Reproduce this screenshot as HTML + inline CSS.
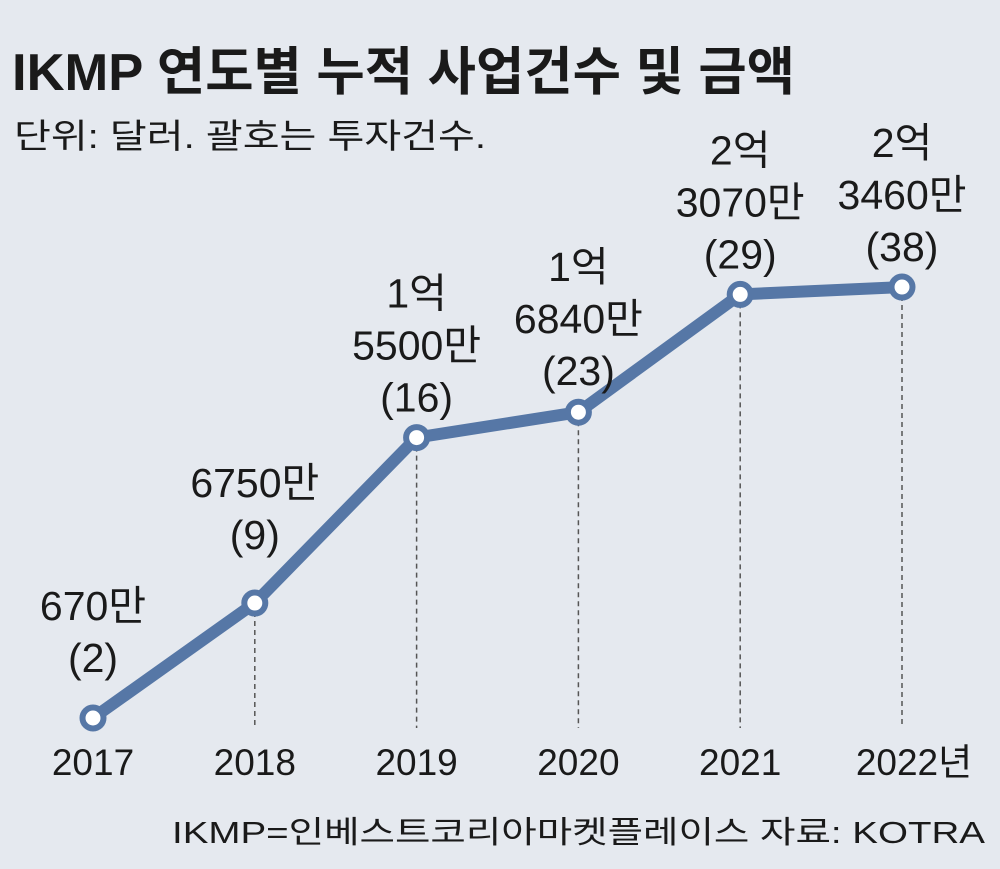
<!DOCTYPE html>
<html><head><meta charset="utf-8"><style>
body{margin:0;background:#e5e9ef;}
svg{display:block;font-family:"Liberation Sans","Noto Sans CJK KR",sans-serif;}
</style></head><body>
<svg width="1000" height="869" viewBox="0 0 1000 869">
<rect width="1000" height="869" fill="#e5e9ef"/>
<text x="12" y="90" font-size="52" font-weight="bold" fill="#1a1a1a" textLength="783" lengthAdjust="spacingAndGlyphs">IKMP 연도별 누적 사업건수 및 금액</text>
<text x="14" y="148" font-size="34" fill="#1a1a1a" textLength="472" lengthAdjust="spacingAndGlyphs">단위: 달러. 괄호는 투자건수.</text>
<g id="plot"></g>
<text x="172" y="843" font-size="31" fill="#1a1a1a" textLength="813" lengthAdjust="spacingAndGlyphs">IKMP=인베스트코리아마켓플레이스  자료: KOTRA</text>
</svg>
<script>
const years=["2017","2018","2019","2020","2021","2022년"];
const amounts=[670,6750,15500,16840,23070,23460];
const counts=[2,9,16,23,29,38];
const amountLabels=[["670만"],["6750만"],["1억","5500만"],["1억","6840만"],["2억","3070만"],["2억","3460만"]];
const gaps=[46,54,26,27,26,26];
const xPos=i=>93+i*161.8;
const yPos=v=>718-(v-670)*0.01891;
const ns="http://www.w3.org/2000/svg";
const g=document.getElementById('plot');
function mk(t,a){const e=document.createElementNS(ns,t);for(const k in a)e.setAttribute(k,a[k]);g.appendChild(e);return e;}
years.forEach((y,i)=>{
  if(i>0){const d=mk('line',{x1:xPos(i),x2:xPos(i),y1:yPos(amounts[i]),y2:728,stroke:'#555','stroke-width':1.5,'stroke-dasharray':'5,4'});
  
  }
  const t=mk('text',{x:i==5?xPos(i)+12:xPos(i),y:775,'font-size':37,'text-anchor':'middle',fill:'#1a1a1a'});t.textContent=y;
  
  
});
const pl=mk('polyline',{points:amounts.map((v,i)=>xPos(i)+','+yPos(v)).join(' '),fill:'none',stroke:'#5677a6','stroke-width':12,'stroke-linejoin':'round'});


amounts.forEach((v,i)=>{
  const c=mk('circle',{cx:xPos(i),cy:yPos(v),r:10.5,fill:'#fff',stroke:'#5677a6','stroke-width':6});
  
  
  const lines=amountLabels[i].concat(['('+counts[i]+')']);
  const base=yPos(v)-gaps[i];
  lines.forEach((s,j)=>{
    const t=mk('text',{x:xPos(i),y:base-(lines.length-1-j)*52,'font-size':41,'text-anchor':'middle',fill:'#1a1a1a'});
    t.textContent=s;
    
    
  });
});
</script>
</body></html>
